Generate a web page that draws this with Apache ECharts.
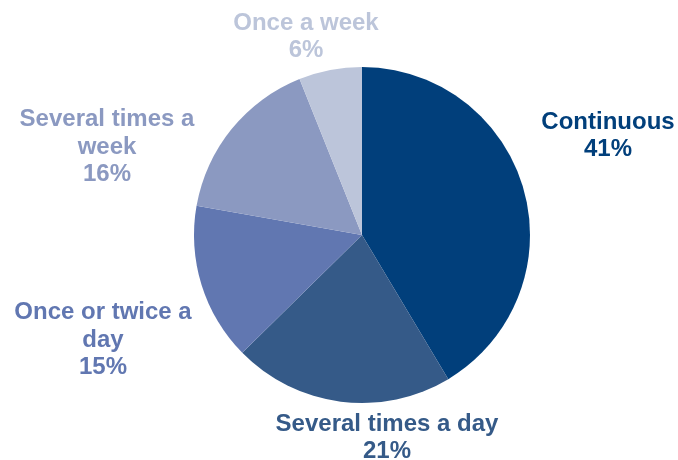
<!DOCTYPE html>
<html>
<head>
<meta charset="utf-8">
<script src="https://cdn.jsdelivr.net/npm/echarts@6/dist/echarts.min.js"></script>
<style>html,body{margin:0;padding:0;background:#fff}#c{width:678px;height:460px}</style>
</head>
<body>
<div id="c"></div>
<script>
const categories = ['Continuous', 'Several times a day', 'Once or twice a\nday', 'Several times a\nweek', 'Once a week'];
const values = [41, 21, 15, 16, 6];
const colors = ['#013F7B', '#355A88', '#6177B1', '#8B99C1', '#BCC5DA'];
// label block centres (layout only)
const labelPos = [[608, 136], [387, 438], [103, 340], [107, 147], [306, 37]];

const chart = echarts.init(document.getElementById('c'), null, {renderer: 'canvas'});
chart.setOption({
  animation: false,
  series: [{
    type: 'pie',
    center: [362, 235],
    radius: 168,
    startAngle: 90,
    clockwise: true,
    data: categories.map((n, i) => ({name: n, value: values[i], itemStyle: {color: colors[i]}, label: {color: colors[i]}})),
    label: {
      show: true,
      position: 'outside',
      formatter: '{b}\n{c}%',
      fontFamily: 'Liberation Sans, Arial, sans-serif',
      fontWeight: 'bold',
      fontSize: 24,
      lineHeight: 27.5,
      align: 'center',
      overflow: 'none'
    },
    labelLine: {show: false},
    labelLayout: function (p) {
      const pos = labelPos[p.dataIndex];
      return {x: pos[0], y: pos[1], align: 'center', verticalAlign: 'middle', hideOverlap: false, moveOverlap: null};
    },
    itemStyle: {borderWidth: 0}
  }]
});
</script>
</body>
</html>
